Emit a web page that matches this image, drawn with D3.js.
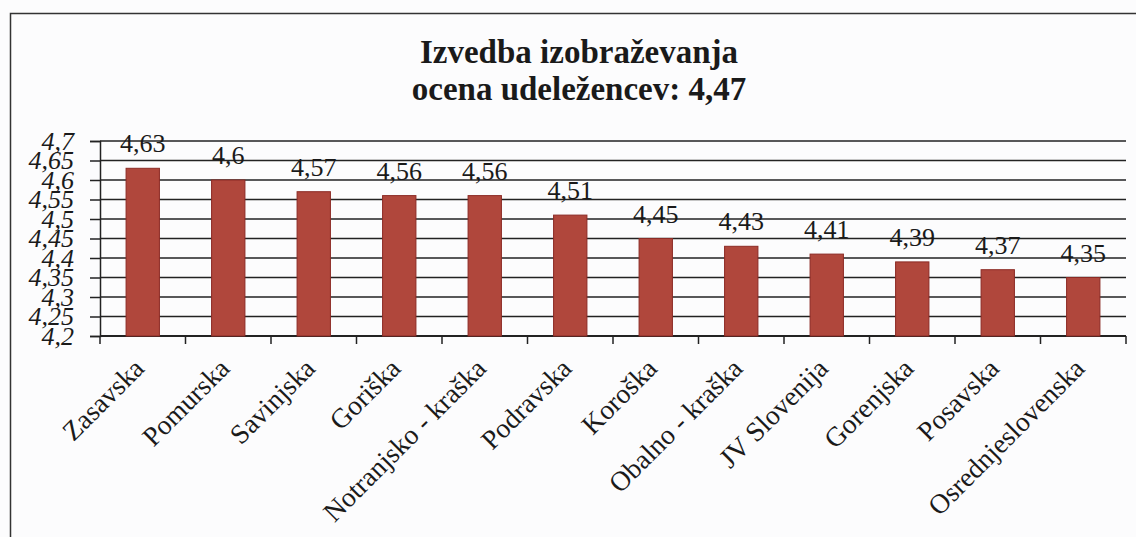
<!DOCTYPE html>
<html>
<head>
<meta charset="utf-8">
<script src="https://cdn.jsdelivr.net/npm/d3@7"></script>
<style>
  body { margin: 0; background: #fcfcfd; }
  svg { display: block; }
</style>
</head>
<body>
<div id="chart"></div>
<script>
var regions = ["Zasavska", "Pomurska", "Savinjska", "Goriška", "Notranjsko - kraška", "Podravska",
               "Koroška", "Obalno - kraška", "JV Slovenija", "Gorenjska", "Posavska", "Osrednjeslovenska"];
var scores = [4.63, 4.6, 4.57, 4.56, 4.56, 4.51, 4.45, 4.43, 4.41, 4.39, 4.37, 4.35];
var yTicks = [4.2, 4.25, 4.3, 4.35, 4.4, 4.45, 4.5, 4.55, 4.6, 4.65, 4.7];
var titleLines = ["Izvedba izobraževanja", "ocena udeležencev: 4,47"];

var width = 1136, height = 537;
var margin = {top: 141, right: 10, bottom: 201, left: 100};

var comma = function(v){ return String(+v.toFixed(2)).replace(".", ","); };

var svg = d3.select("#chart").append("svg")
    .attr("width", width)
    .attr("height", height);

// outer frame
svg.append("path")
    .attr("d", "M10.5," + height + "V13.5H" + width)
    .attr("fill", "none")
    .attr("stroke", "#333")
    .attr("stroke-width", 1.5);

svg.append("g").selectAll("text")
    .data(titleLines)
    .enter()
    .append("text")
    .attr("x", 579)
    .attr("y", function(d, i){ return 63 + i * 37; })
    .attr("text-anchor", "middle")
    .attr("font-family", "Liberation Serif, Times New Roman, serif")
    .attr("font-weight", "bold")
    .attr("font-size", 33)
    .attr("fill", "#1a1a1a")
    .text(function(d){ return d; });

var x = d3.scaleBand()
    .domain(regions)
    .range([margin.left, width - margin.right])
    .paddingInner(0.61)
    .paddingOuter(0.305);

var y = d3.scaleLinear()
    .domain([4.2, 4.7])
    .range([height - margin.bottom, margin.top]);

// gridlines + y ticks
var yAxis = svg.append("g")
    .attr("transform", "translate(" + margin.left + ",0)")
    .call(d3.axisLeft(y)
        .tickValues(yTicks)
        .tickSize(10)
        .tickPadding(16)
        .tickFormat(comma));

yAxis.select(".domain").attr("stroke", "#222").attr("stroke-width", 1.5);
yAxis.selectAll(".tick line").attr("stroke", "#222").attr("stroke-width", 1.5);
yAxis.selectAll(".tick text")
    .attr("font-family", "Liberation Serif, Times New Roman, serif")
    .attr("font-style", "italic")
    .attr("font-size", 26)
    .attr("fill", "#1a1a1a");

svg.append("g").selectAll("line")
    .data(yTicks)
    .enter()
    .append("line")
    .attr("x1", margin.left)
    .attr("x2", width - margin.right)
    .attr("y1", function(d){ return y(d); })
    .attr("y2", function(d){ return y(d); })
    .attr("stroke", "#222")
    .attr("stroke-width", function(d){ return d === 4.2 ? 2 : 1.6; });

// x axis ticks at category boundaries
var step = x.step();
svg.append("g").selectAll("line")
    .data(d3.range(regions.length + 1))
    .enter()
    .append("line")
    .attr("x1", function(i){ return margin.left + i * step; })
    .attr("x2", function(i){ return margin.left + i * step; })
    .attr("y1", y(4.2))
    .attr("y2", y(4.2) + 8)
    .attr("stroke", "#222")
    .attr("stroke-width", 1.5);

svg.append("g").selectAll("rect")
    .data(scores)
    .enter()
    .append("rect")
    .attr("x", function(d, i){ return x(regions[i]); })
    .attr("y", function(d){ return y(d); })
    .attr("width", x.bandwidth())
    .attr("height", function(d){ return y(4.2) - y(d); })
    .attr("fill", "#b0473c")
    .attr("stroke", "#8c2b25")
    .attr("stroke-width", 1);

svg.append("g").selectAll("text")
    .data(scores)
    .enter()
    .append("text")
    .attr("x", function(d, i){ return x(regions[i]) + x.bandwidth() / 2; })
    .attr("y", function(d){ return y(d) - 16; })
    .attr("text-anchor", "middle")
    .attr("font-family", "Liberation Serif, Times New Roman, serif")
    .attr("font-size", 26)
    .attr("fill", "#1a1a1a")
    .text(function(d){ return comma(d); });

svg.append("g").selectAll("text")
    .data(regions)
    .enter()
    .append("text")
    .attr("transform", function(d){
        return "translate(" + (x(d) + x.bandwidth() / 2 + 3) + "," + (y(4.2) + 34) + ") rotate(-45)";
    })
    .attr("text-anchor", "end")
    .attr("font-family", "Liberation Serif, Times New Roman, serif")
    .attr("font-size", 27.5)
    .attr("fill", "#1a1a1a")
    .text(function(d){ return d; });
</script>
</body>
</html>
